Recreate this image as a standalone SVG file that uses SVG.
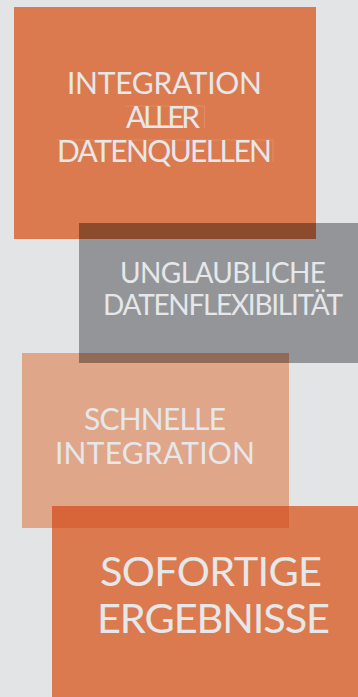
<svg xmlns="http://www.w3.org/2000/svg" width="358" height="697" viewBox="0 0 358 697">
<style>
.lbl{font-family:Lato,"Liberation Sans",sans-serif;font-weight:400;fill:#e6e7e9;text-anchor:middle;}
.guide{stroke:#e8a987;stroke-width:0.6;fill:none;opacity:0.7;}
</style>
<rect x="0" y="0" width="358" height="697" fill="#e3e4e6"/>
<g id="node-integration-aller">
<rect x="14" y="7" width="302" height="232" fill="#db7a4f"/>
<path class="guide" d="M125 106H204.5V128M57 140H273V162"/>
<text class="lbl" font-size="30" x="164.5" y="94" textLength="195">INTEGRATION</text>
<text class="lbl" font-size="30" x="163" y="128" textLength="74">ALLER</text>
<text class="lbl" font-size="30" x="164.5" y="162" textLength="215">DATENQUELLEN</text>
</g>
<g id="node-schnelle">
<rect x="22" y="353" width="267" height="175" fill="#dfa68a"/>
<text class="lbl" font-size="30" x="155" y="430" textLength="142">SCHNELLE</text>
<text class="lbl" font-size="30" x="155" y="464" textLength="200">INTEGRATION</text>
</g>
<g id="node-datenflexibilitaet">
<rect x="79" y="223" width="279" height="140" fill="#939598"/>
<rect x="79" y="223" width="237" height="16" fill="#8b4b2c"/>
<rect x="79" y="353" width="210" height="10" fill="#926b58"/>
<text class="lbl" font-size="28" x="223" y="283" textLength="206">UNGLAUBLICHE</text>
<text class="lbl" font-size="28" x="223" y="315" textLength="240">DATENFLEXIBILITÄT</text>
</g>
<g id="node-ergebnisse">
<rect x="52" y="506" width="306" height="191" fill="#db7a4f"/>
<rect x="52" y="506" width="237" height="22" fill="#d8643a"/>
<text class="lbl" font-size="41.5" x="211" y="586" textLength="222">SOFORTIGE</text>
<text class="lbl" font-size="41.5" x="213.5" y="633" textLength="233">ERGEBNISSE</text>
</g>
<g id="connectors"></g>
</svg>
